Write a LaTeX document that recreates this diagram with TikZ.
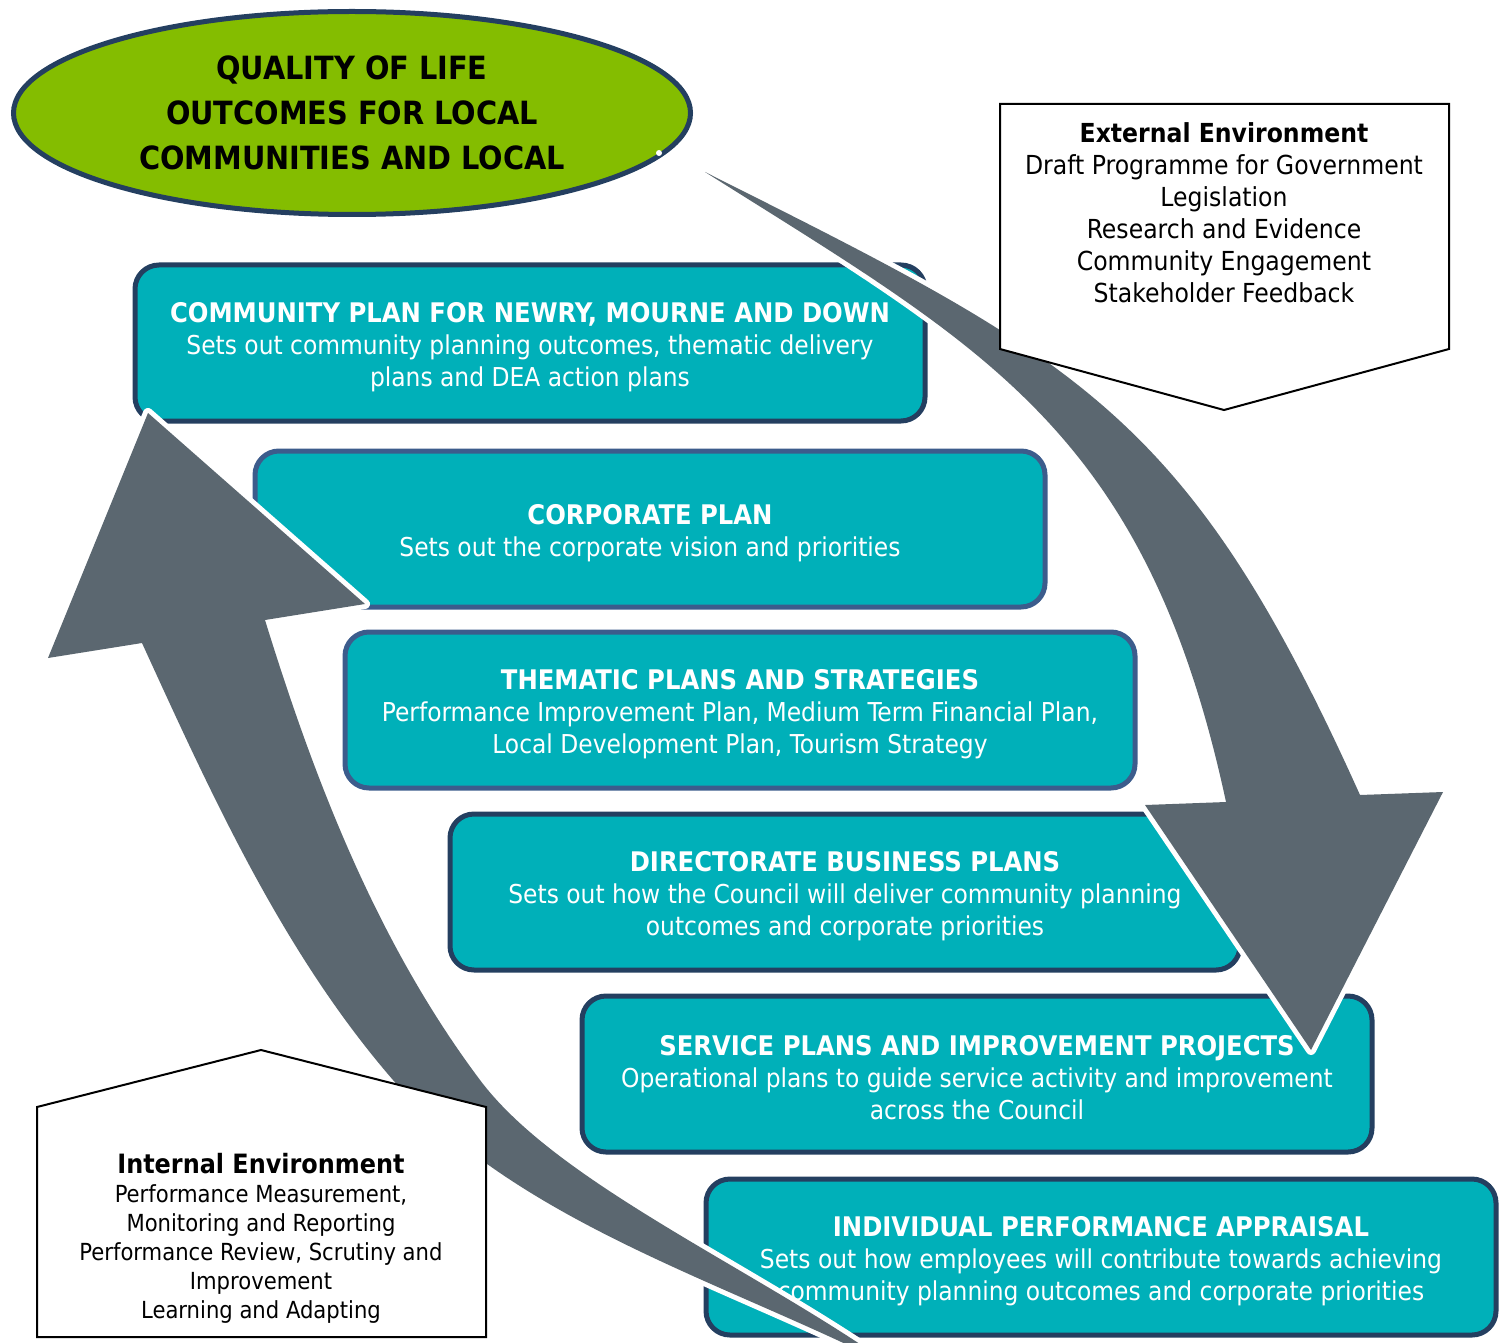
\documentclass[tikz,border=0pt]{standalone}
\usepackage{fontspec}
\setmainfont{DejaVu Sans Condensed}
\usetikzlibrary{shapes.geometric}
\definecolor{boxteal}{HTML}{00B0B9}
\definecolor{boxline}{HTML}{243F60}
\definecolor{boxlinelt}{HTML}{3C5C8C}
\definecolor{arrowgrey}{HTML}{5B6770}
\definecolor{lifegreen}{HTML}{84BD00}
\newcommand\plantitle[1]{\rule{0pt}{14pt}{\fontsize{13.5}{16}\selectfont\bfseries #1}}

\begin{document}
\begin{tikzpicture}[x=0.5pt,y=-0.5pt,
  planbox/.style={draw=boxline,line width=2.5pt,fill=boxteal,rounded corners=12pt,
    text=white,align=center,minimum width=395pt,minimum height=78pt,inner sep=0pt,
    font=\fontsize{13}{16}\selectfont},
  cyclearrow/.style={fill=arrowgrey,preaction={draw=white,line width=5pt,line join=round}},
  envbox/.style={fill=white,draw=black,line width=1pt},
  envtext/.style={align=center,inner sep=0pt}]
\useasboundingbox (0,0) rectangle (1507,1342);
\clip (0,0) rectangle (1507,1342);

% the six planning levels
\node[planbox] (cplan) at (530,343) {\plantitle{COMMUNITY PLAN FOR NEWRY, MOURNE AND DOWN}\\Sets out community planning outcomes, thematic delivery\\plans and DEA action plans};
\node[planbox,draw=boxlinelt] (corp) at (650,529) {\plantitle{CORPORATE PLAN}\\Sets out the corporate vision and priorities};
\node[planbox,draw=boxlinelt] (theme) at (740,710) {\plantitle{THEMATIC PLANS AND STRATEGIES}\\Performance Improvement Plan, Medium Term Financial Plan,\\Local Development Plan, Tourism Strategy};
\node[planbox] (direct) at (845,892) {\plantitle{DIRECTORATE BUSINESS PLANS}\\Sets out how the Council will deliver community planning\\outcomes and corporate priorities};
\node[planbox] (service) at (977,1074) {\plantitle{SERVICE PLANS AND IMPROVEMENT PROJECTS}\\Operational plans to guide service activity and improvement\\across the Council};
\node[planbox] (appraisal) at (1101,1257) {\plantitle{INDIVIDUAL PERFORMANCE APPRAISAL}\\Sets out how employees will contribute towards achieving\\community planning outcomes and corporate priorities};

% downward and upward cycle arrows
\path[cyclearrow] (705,172) .. controls (1080,360) and (1188,413) .. (1360,795)
  -- (1443,792) -- (1311,1050) -- (1145,805) -- (1226,802)
  .. controls (1146,430) and (984,348) .. (705,172) -- cycle;
\path[cyclearrow] (142,643) .. controls (212,796) and (283,953) .. (393,1080)
  .. controls (518,1223) and (726,1282) .. (895,1368)
  .. controls (756,1269) and (558,1184) .. (480,1080)
  .. controls (378,944) and (315,782) .. (265,620)
  -- (365,604) -- (148,413) -- (48,658) -- cycle;

% environments
\filldraw[envbox] (1000,104) -- (1449,104) -- (1449,349) -- (1224,410) -- (1000,349) -- cycle;
\node[envtext,font=\fontsize{13.1}{16}\selectfont] (extenv) at (1224,213) {\textbf{External Environment}\\Draft Programme for Government\\Legislation\\Research and Evidence\\Community Engagement\\Stakeholder Feedback};
\filldraw[envbox] (37,1337) -- (486,1337) -- (486,1107) -- (261,1050) -- (37,1107) -- cycle;
\node[envtext,font=\fontsize{11.75}{14.5}\selectfont] (intenv) at (261,1238) {{\fontsize{13.3}{15}\selectfont\bfseries Internal Environment}\\Performance Measurement,\\Monitoring and Reporting\\Performance Review, Scrutiny and\\Improvement\\Learning and Adapting};

% outcomes
\node[ellipse,draw=boxline,line width=2.5pt,fill=lifegreen,minimum width=338.5pt,minimum height=101.5pt,
  inner sep=0pt,align=center,font=\fontsize{16}{22.5}\selectfont\bfseries] (quality) at (352,113)
  {QUALITY OF LIFE\\OUTCOMES FOR LOCAL\\COMMUNITIES AND LOCAL};
\fill[white] (659,153) circle (1.5pt);
\end{tikzpicture}
\end{document}
